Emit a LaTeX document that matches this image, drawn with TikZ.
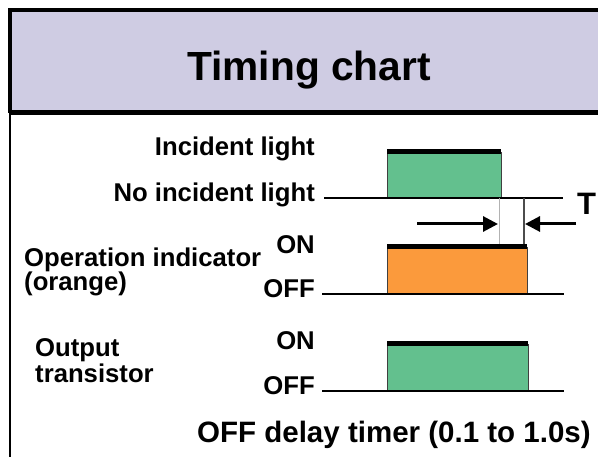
\documentclass[tikz,border=0pt]{standalone}
\usepackage{fontspec}
\setmainfont{Liberation Sans}
\usetikzlibrary{arrows.meta}
\definecolor{headbg}{RGB}{207,204,227}
\definecolor{pulsegreen}{RGB}{99,192,142}
\definecolor{pulseorange}{RGB}{251,154,60}
\tikzset{
  lbl/.style = {font=\fontsize{25.7}{29}\selectfont\bfseries, inner sep=0pt},
  pulse/.style = {draw=black!75, line width=0.8},
  level/.style = {line width=2.5},
  topbar/.style = {line width=5},
  delayarrow/.style = {line width=3, -{Triangle[length=15,width=15]}}
}
\begin{document}
\begin{tikzpicture}[x=1pt, y=-1pt]
  \useasboundingbox (0,0) rectangle (598,457);
  % header
  \fill[headbg] (10,10) rectangle (600,113);
  \draw[line width=3.5] (600,10) -- (10,10) -- (10,113);
  \draw[line width=5] (10,113) -- (600,113);
  \draw[line width=2] (9.7,113) -- (9.7,460);
  \node[lbl, font=\fontsize{40.7}{44}\selectfont\bfseries, anchor=base] (title) at (309,81) {Timing chart};
  % incident light
  \node[lbl, anchor=base east] (inc) at (315,156) {Incident light};
  \node[lbl, anchor=base east] (noinc) at (315,202) {No incident light};
  \filldraw[pulse, fill=pulsegreen] (387,198) rectangle (501,152);
  \draw[topbar] (387,151.5) -- (501,151.5);
  \draw[level] (324,198) -- (563,198);
  % delay T
  \draw[gray!60, line width=1] (499,198) -- (499,247);
  \draw[black!70, line width=1.2] (524,198) -- (524,247);
  \draw[delayarrow] (417,224) -- (498,224);
  \draw[delayarrow] (576,224) -- (525,224);
  \node[lbl, font=\fontsize{31}{34}\selectfont\bfseries, anchor=base west] (tlbl) at (577,215) {T};
  % operation indicator
  \node[lbl, anchor=base west] (opind) at (24,267) {Operation indicator};
  \node[lbl, anchor=base west] (orng) at (24,291) {(orange)};
  \node[lbl, anchor=base east] (opon) at (315,254) {ON};
  \node[lbl, anchor=base east] (opoff) at (315,298) {OFF};
  \filldraw[pulse, fill=pulseorange] (387,294) rectangle (527,247);
  \draw[topbar] (387,246.5) -- (527,246.5);
  \draw[level] (322,294) -- (564,294);
  % output transistor
  \node[lbl, anchor=base west] (outp) at (35,357) {Output};
  \node[lbl, anchor=base west] (trans) at (35,383) {transistor};
  \node[lbl, anchor=base east] (outon) at (315,350) {ON};
  \node[lbl, anchor=base east] (outoff) at (315,395) {OFF};
  \filldraw[pulse, fill=pulsegreen] (387,391) rectangle (528,344);
  \draw[topbar] (387,343.5) -- (528,343.5);
  \draw[level] (322,391) -- (564,391);
  % caption
  \node[lbl, font=\fontsize{29.5}{33}\selectfont\bfseries, anchor=base west] (cap) at (197,443) {OFF delay timer (0.1 to 1.0s)};
\end{tikzpicture}
\end{document}
